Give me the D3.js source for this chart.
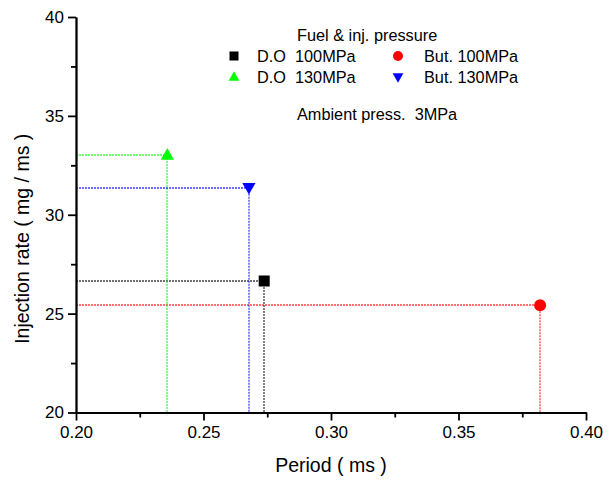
<!DOCTYPE html>
<html>
<head>
<meta charset="utf-8">
<script src="https://cdn.jsdelivr.net/npm/d3@7"></script>
<style>
  html, body { margin: 0; padding: 0; background: #fff; }
  svg { display: block; font-family: "Liberation Sans", Arial, sans-serif; }
</style>
</head>
<body>
<svg id="chart" width="616" height="480"></svg>
<script>
// Injection rate vs. period for each fuel / injection-pressure case
const seriesNames = ["D.O  100MPa", "But. 100MPa", "D.O  130MPa", "But. 130MPa"];
const periodMs   = [0.2738, 0.382, 0.2358, 0.2678];
const rateMgMs   = [26.65, 25.42, 33.02, 31.37];
const seriesColors = ["#000000", "#ff0000", "#00ff00", "#0000ff"];
const seriesSymbols = ["square", "circle", "triangleUp", "triangleDown"];

const xTicks = [0.20, 0.25, 0.30, 0.35, 0.40];
const xMinorTicks = [0.225, 0.275, 0.325, 0.375];
const yTicks = [20, 25, 30, 35, 40];
const yMinorTicks = [22.5, 27.5, 32.5, 37.5];

const svg = d3.select("#chart");
const plotLeft = 76, plotRight = 586, plotTop = 17, plotBottom = 412.5;

const x = d3.scaleLinear().domain([0.20, 0.40]).range([plotLeft, plotRight]);
const y = d3.scaleLinear().domain([20, 40]).range([plotBottom, plotTop]);

const data = seriesNames.map((name, i) => ({
  name, period: periodMs[i], rate: rateMgMs[i],
  color: seriesColors[i], symbol: seriesSymbols[i]
}));

// dotted drop lines from each point to both axes
const guides = svg.append("g");
data.forEach(d => {
  guides.append("line")
    .attr("x1", x(0.20)).attr("x2", x(d.period))
    .attr("y1", Math.round(y(d.rate))).attr("y2", Math.round(y(d.rate)))
    .attr("stroke", d.color).attr("stroke-width", 1.4)
    .attr("stroke-dasharray", "2,1").attr("stroke-opacity", 0.75);
  guides.append("line")
    .attr("x1", Math.round(x(d.period))).attr("x2", Math.round(x(d.period)))
    .attr("y1", y(d.rate)).attr("y2", y(20))
    .attr("stroke", d.color).attr("stroke-width", 1.3)
    .attr("stroke-dasharray", "2,1").attr("stroke-opacity", 0.75);
});

// marker shapes
function drawMarker(g, sym, cx, cy, s, color) {
  if (sym === "square") {
    g.append("rect").attr("x", cx - s / 2).attr("y", cy - s / 2)
      .attr("width", s).attr("height", s).attr("fill", color);
  } else if (sym === "circle") {
    g.append("circle").attr("cx", cx).attr("cy", cy).attr("r", s / 2 + 0.5).attr("fill", color);
  } else if (sym === "triangleUp") {
    const w = s * 1.2, h = s * 1.05;
    g.append("path").attr("d", `M${cx},${cy - h * 0.6} L${cx + w / 2},${cy + h * 0.4} L${cx - w / 2},${cy + h * 0.4} Z`)
      .attr("fill", color);
  } else {
    const w = s * 1.2, h = s * 1.05;
    g.append("path").attr("d", `M${cx},${cy + h * 0.6} L${cx + w / 2},${cy - h * 0.4} L${cx - w / 2},${cy - h * 0.4} Z`)
      .attr("fill", color);
  }
}

const marks = svg.append("g");
data.forEach(d => drawMarker(marks, d.symbol, x(d.period), y(d.rate), 11, d.color));

// axes
const fmtX = d3.format(".2f");
const xAxis = svg.append("g").attr("transform", `translate(0,${plotBottom})`)
  .call(d3.axisBottom(x).tickValues(xTicks).tickFormat(fmtX).tickSize(8).tickPadding(5).tickSizeOuter(0));
const xMinor = svg.append("g").attr("transform", `translate(0,${plotBottom})`)
  .call(d3.axisBottom(x).tickValues(xMinorTicks).tickFormat("").tickSize(5).tickSizeOuter(0));
const yAxis = svg.append("g").attr("transform", `translate(${plotLeft},0)`)
  .call(d3.axisLeft(y).tickValues(yTicks).tickFormat(d3.format("d")).tickSize(8).tickPadding(4).tickSizeOuter(0));
const yMinor = svg.append("g").attr("transform", `translate(${plotLeft},0)`)
  .call(d3.axisLeft(y).tickValues(yMinorTicks).tickFormat("").tickSize(5).tickSizeOuter(0));

[xAxis, xMinor, yAxis, yMinor].forEach(g => {
  g.selectAll("path.domain").attr("stroke", "#000").attr("stroke-width", 1.8);
  g.selectAll(".tick line").attr("stroke", "#000").attr("stroke-width", 1.8);
  g.selectAll(".tick text").attr("fill", "#000")
    .style("font-family", "'Liberation Sans', Arial, sans-serif").style("font-size", "17px");
});

// axis titles
svg.append("text").attr("x", (plotLeft + plotRight) / 2).attr("y", 472)
  .attr("text-anchor", "middle").style("font-size", "19.5px").text("Period ( ms )");
svg.append("text").attr("transform", `translate(29,${(plotTop + plotBottom) / 2 + 24}) rotate(-90)`)
  .attr("text-anchor", "middle").style("font-size", "19.5px").text("Injection rate ( mg / ms )");

// legend
const legend = svg.append("g").style("font-size", "16.3px");
legend.append("text").attr("x", 297).attr("y", 41).text("Fuel & inj. pressure");
const legendPos = [
  { mx: 234, tx: 257, cy: 56 },
  { mx: 398, tx: 424, cy: 56 },
  { mx: 234, tx: 257, cy: 77 },
  { mx: 398, tx: 424, cy: 77 }
];
data.forEach((d, i) => {
  const p = legendPos[i];
  drawMarker(legend, d.symbol, p.mx, p.cy, 9, d.color);
  legend.append("text").attr("x", p.tx).attr("y", p.cy + 6)
    .attr("xml:space", "preserve").style("white-space", "pre").text(d.name);
});
legend.append("text").attr("x", 297).attr("y", 120)
  .attr("xml:space", "preserve").style("white-space", "pre").text("Ambient press.  3MPa");
</script>
</body>
</html>
